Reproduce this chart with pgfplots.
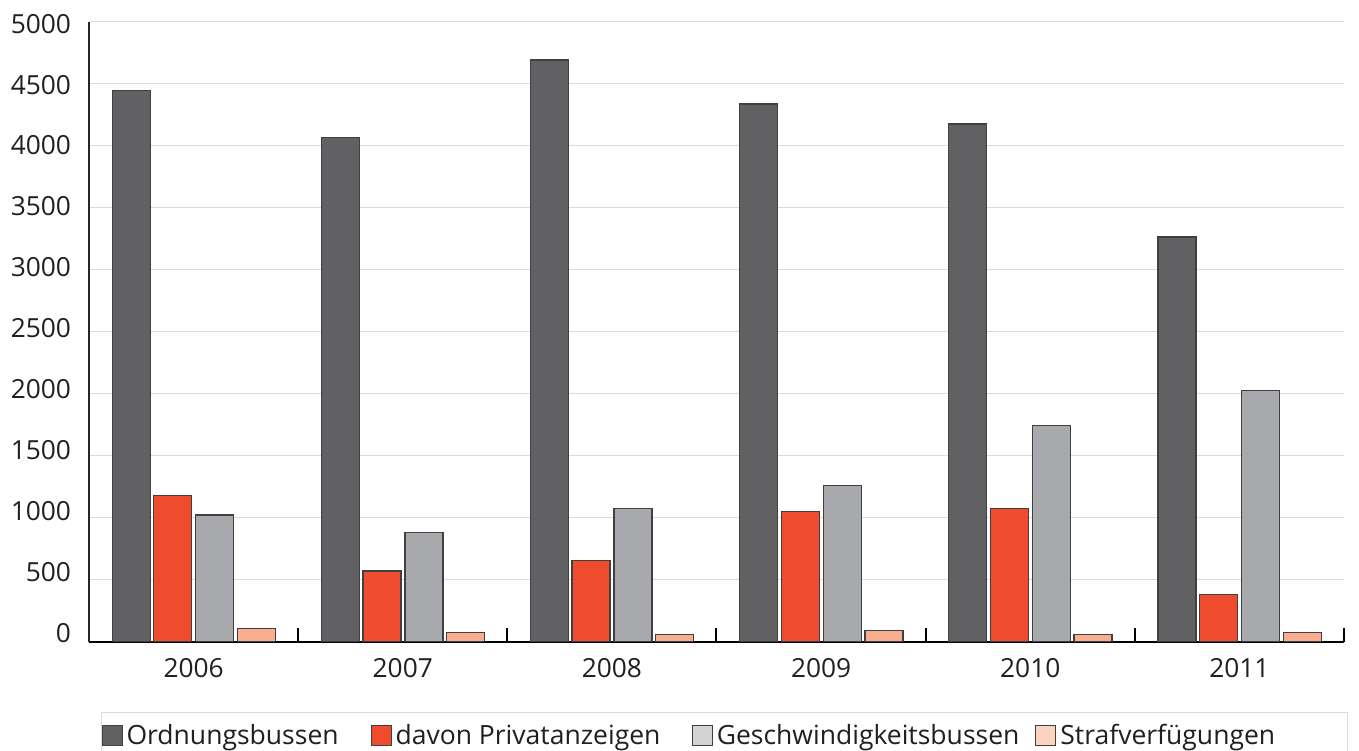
\documentclass[border=0pt]{standalone}
\usepackage{pgfplots}
\pgfplotsset{compat=1.18}
\usepackage{fontspec}
\setmainfont{Open Sans}
\definecolor{cdark}{HTML}{616163}
\definecolor{cred}{HTML}{EE4B2F}
\definecolor{cgray}{HTML}{A8A9AC}
\definecolor{cpeach}{HTML}{F8AE8F}
\definecolor{lgray}{HTML}{D2D3D5}
\definecolor{lpeach}{HTML}{FCD3C0}
\definecolor{edge}{HTML}{404040}
\definecolor{gridc}{HTML}{DCDCDC}
\definecolor{txt}{HTML}{231F20}
\begin{document}
\begin{tikzpicture}
\begin{axis}[
  scale only axis, width=627.5bp, height=310bp,
  anchor=south west, at={(0,0)},
  xmin=-0.5, xmax=5.5, ymin=0, ymax=5000,
  axis x line*=bottom, axis y line*=left,
  x axis line style={line width=1bp, draw=black},
  y axis line style={line width=0.75bp, draw=black!85},
  xtick={0,1,2,3,4,5}, xticklabels={2006,2007,2008,2009,2010,2011},
  minor xtick={-0.5,0.5,1.5,2.5,3.5,4.5,5.5},
  ytick={0,500,...,5000},
  major tick length=0pt, minor tick length=7bp, tick align=inside,
  minor tick style={line width=1bp, draw=black},
  ymajorgrids, grid style={gridc, line width=0.75bp},
  /pgf/number format/assume math mode=true,
  /pgf/number format/1000 sep={},
  tick label style={font=\fontsize{13.2}{15}\selectfont, text=txt},
  yticklabel={\pgfmathsetmacro{\sh}{4.5-0.0011*\tick}\raisebox{\sh bp}[\height][\depth]{\pgfmathprintnumber{\tick}}},
  yticklabel style={xshift=-5.5bp},
  xticklabel style={yshift=-5bp},
  legend columns=4,
  legend cell align=left,
  legend style={at={(0.0096,-0.1129)}, anchor=north west, draw=gridc, line width=0.5bp,
    inner xsep=0pt, inner ysep=4bp, font=\fontsize{13.3}{15}\selectfont, text=txt,
    /tikz/column 2/.style={column sep=14bp},
    /tikz/column 4/.style={column sep=13.7bp},
    /tikz/column 6/.style={column sep=6bp}},
]
\addplot[ybar, fill=cdark, draw=edge, line width=0.65bp, bar width=19bp, bar shift=-31.2bp,
  legend image code/.code={\draw[fill=cdark,draw=edge,line width=0.5bp] (0bp,-5bp) rectangle (10bp,5bp);}]
  coordinates {(0,4444) (1,4068) (2,4690) (3,4337) (4,4175) (5,3264)};
\addlegendentry{Ordnungsbussen}
\addplot[ybar, fill=cred, draw=edge, line width=0.65bp, bar width=19bp, bar shift=-10.4bp,
  legend image code/.code={\draw[fill=cred,draw=edge,line width=0.5bp] (0bp,-5bp) rectangle (10bp,5bp);}]
  coordinates {(0,1177) (1,570) (2,653) (3,1050) (4,1076) (5,379)};
\addlegendentry{davon Privatanzeigen}
\addplot[ybar, fill=cgray, draw=edge, line width=0.65bp, bar width=19bp, bar shift=10.6bp,
  legend image code/.code={\draw[fill=lgray,draw=edge,line width=0.5bp] (0bp,-5bp) rectangle (10bp,5bp);}]
  coordinates {(0,1022) (1,879) (2,1073) (3,1260) (4,1745) (5,2027)};
\addlegendentry{Geschwindigkeitsbussen}
\addplot[ybar, fill=cpeach, draw=edge, line width=0.65bp, bar width=19bp, bar shift=31.4bp,
  legend image code/.code={\draw[fill=lpeach,draw=edge,line width=0.5bp] (0bp,-5bp) rectangle (10bp,5bp);}]
  coordinates {(0,105) (1,76) (2,60) (3,92) (4,56) (5,76)};
\addlegendentry{Strafverfügungen\rule{34bp}{0pt}}
\end{axis}
\pgfresetboundingbox
\useasboundingbox (-44.5bp,-54.65bp) rectangle (635bp,320.85bp);
\end{tikzpicture}
\end{document}
